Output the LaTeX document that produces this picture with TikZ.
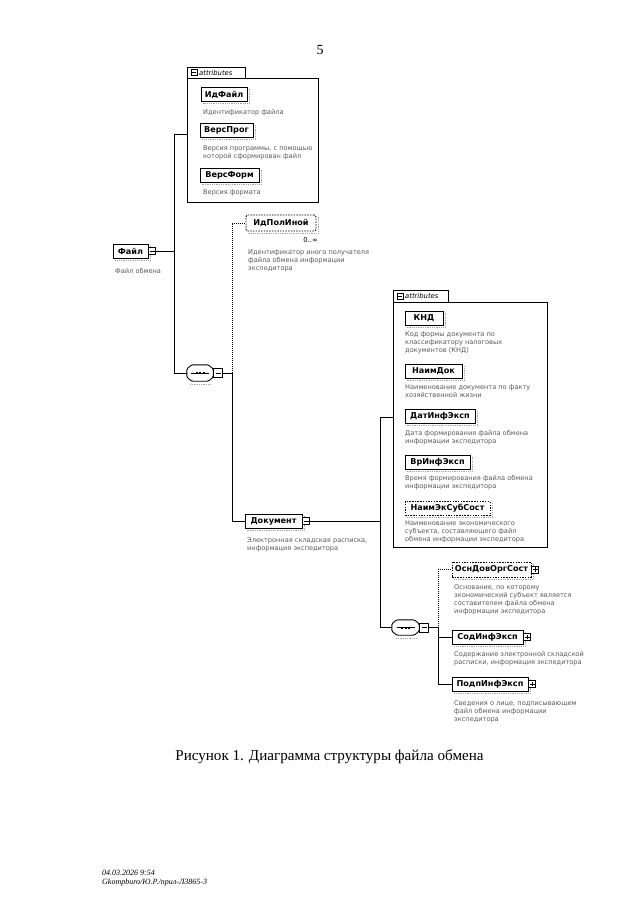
\documentclass[tikz,border=0pt]{standalone}
\usepackage{fontspec}
\setmainfont{Liberation Serif}
\newfontfamily\xs{DejaVu Sans}
\tikzset{
  el/.style={draw, line width=0.9pt, fill=white, font=\xs\bfseries\fontsize{8.1}{9}\selectfont,
    minimum height=14pt, inner sep=0pt, anchor=center},
  optel/.style={el, dash pattern=on 1.5pt off 1.2pt},
  desc/.style={anchor=north west, inner sep=0pt, align=left,
    font=\xs\fontsize{6.6}{8}\selectfont, text=black!65},
  conn/.style={line width=0.9pt},
  optconn/.style={line width=0.9pt, dash pattern=on 1pt off 1pt},
  pmbox/.style={draw, line width=0.6pt, fill=white, minimum size=7pt, inner sep=0pt},
  shd/.style={black!35, line width=1.2pt, dash pattern=on 1pt off 0.8pt},
  seqbox/.style={minimum width=26pt, minimum height=16pt, inner sep=0pt},
  attrbox/.style={draw, line width=0.9pt, anchor=north west, inner sep=0pt},
  tabtext/.style={anchor=west, inner sep=0pt, font=\xs\itshape\fontsize{6.8}{8}\selectfont},
}
\newcommand{\shadowof}[1]{%
  \draw[shd] ([xshift=1.8pt,yshift=-2pt]#1.north east) -- ([xshift=1.8pt,yshift=-1.8pt]#1.south east)
    -- ([xshift=2pt,yshift=-1.8pt]#1.south west);}
\newcommand{\plusof}[2]{%
  \node[pmbox, anchor=west] (#2) at (#1.east) {};
  \draw[line width=0.6pt] ([xshift=-2.3pt]#2.center) -- ([xshift=2.3pt]#2.center)
    ([yshift=-2.3pt]#2.center) -- ([yshift=2.3pt]#2.center);}
\newcommand{\minusof}[2]{%
  \node[pmbox, anchor=west] (#2) at (#1.east) {};
  \draw[line width=0.6pt] ([xshift=-2.3pt]#2.center) -- ([xshift=2.3pt]#2.center);}
\newcommand{\seqicon}[1]{%
  \draw[line width=0.9pt, fill=white, rounded corners=1.2pt]
    ([xshift=5pt]#1.north west) -- ([xshift=-5pt]#1.north east) -- ([yshift=-4pt]#1.north east)
    -- ([yshift=4pt]#1.south east) -- ([xshift=-5pt]#1.south east) -- ([xshift=5pt]#1.south west)
    -- ([yshift=4pt]#1.south west) -- ([yshift=-4pt]#1.north west) -- cycle;
  \draw[line width=0.6pt] ([xshift=-9pt]#1.center) -- ([xshift=9pt]#1.center);
  \foreach \dx in {-3.5,0,3.5}{\fill ([xshift=\dx pt]#1.center) +(-1pt,-1pt) rectangle +(1pt,1pt);}}
\begin{document}
\begin{tikzpicture}[x=1pt,y=-1pt]
\useasboundingbox (0,0) rectangle (640,905);
\fill[white] (0,0) rectangle (640,905);

% page number
\node[font=\fontsize{14}{16}\selectfont] (pgnum) at (320,50) {5};

% ---------- attributes box 1 ----------
\node[attrbox, minimum width=131pt, minimum height=124pt] (attr1) at (187,78) {};
\draw[line width=0.9pt] (attr1.north west) -- ++(0,-11) -- ++(58,0) -- ++(0,11);
\node[pmbox, minimum size=6pt] (attr1m) at (194,72.5) {};
\draw[line width=0.5pt] ([xshift=-2pt]attr1m.center) -- ([xshift=2pt]attr1m.center);
\node[tabtext] (attr1t) at (199,72.5) {attributes};

\node[el, minimum width=46pt] (idf) at (224,94.5) {ИдФайл};
\shadowof{idf}
\node[desc] (idfd) at (203,109) {Идентификатор файла};

\node[el, minimum width=53pt] (vprog) at (226.5,130.5) {ВерсПрог};
\shadowof{vprog}
\node[desc] (vprogd) at (203,145) {Версия программы, с помощью\\которой сформирован файл};

\node[el, minimum width=59pt] (vform) at (229.5,175) {ВерсФорм};
\shadowof{vform}
\node[desc] (vformd) at (203,189) {Версия формата};

% ---------- root ----------
\node[el, minimum width=35pt] (ff) at (130.5,251) {Файл};
\shadowof{ff}
\minusof{ff}{ffm}
\node[desc] (ffd) at (115,268) {Файл обмена};

\coordinate (s1t) at (174,134);
\coordinate (s1b) at (174,373);
\draw[conn] (ffm.east) -- (ffm.east -| s1t);
\draw[conn] (s1t -| attr1.west) -- (s1t) -- (s1b);

% sequence 1
\node[seqbox] (seq1) at (200,373) {};
\seqicon{seq1}
\draw[shd, line width=0.8pt] (190,384) -- (210,384);
\node[pmbox, minimum size=9pt, anchor=west] (seq1m) at (seq1.east) {};
\draw[line width=0.6pt] ([xshift=-2.5pt]seq1m.center) -- ([xshift=2.5pt]seq1m.center);
\draw[conn] (s1b) -- (seq1.west);
\coordinate (j1) at (232,373);
\draw[conn] (seq1m.east) -- (j1);

% ИдПолИной
\node[optel, minimum width=70pt, minimum height=16pt, rounded corners=2pt] (idpol) at (281,223) {ИдПолИной};
\shadowof{idpol}
\node[anchor=east, inner sep=0pt, font=\xs\fontsize{6.8}{8}\selectfont] (idpolc) at (318,240) {0..∞};
\node[desc] (idpold) at (248,249) {Идентификатор иного получателя\\файла обмена информации\\экспедитора};
\draw[optconn] (j1) -- (j1 |- idpol.west) -- (idpol.west);

% Документ
\node[el, minimum width=57pt] (doc) at (273.5,521) {Документ};
\shadowof{doc}
\minusof{doc}{docm}
\node[desc] (docd) at (247,537) {Электронная складская расписка,\\информация экспедитора};
\draw[conn] (j1) -- (j1 |- doc.west) -- (doc.west);

\coordinate (s2t) at (380,417);
\coordinate (s2b) at (380,627.5);
\draw[conn] (docm.east) -- (docm.east -| s2t);

% ---------- attributes box 2 ----------
\node[attrbox, minimum width=154pt, minimum height=245pt] (attr2) at (393,302) {};
\draw[line width=0.9pt] (attr2.north west) -- ++(0,-12) -- ++(55,0) -- ++(0,12);
\node[pmbox, minimum size=6pt] (attr2m) at (400,296) {};
\draw[line width=0.5pt] ([xshift=-2pt]attr2m.center) -- ([xshift=2pt]attr2m.center);
\node[tabtext] (attr2t) at (405,296) {attributes};
\draw[conn] (s2t -| attr2.west) -- (s2t) -- (s2b);

\node[el, minimum width=38pt] (knd) at (424,318) {КНД};
\shadowof{knd}
\node[desc] (kndd) at (405,331) {Код формы документа по\\классификатору налоговых\\документов (КНД)};

\node[el, minimum width=57pt] (naimdok) at (433.5,371.5) {НаимДок};
\shadowof{naimdok}
\node[desc] (naimdokd) at (405,384) {Наименование документа по факту\\хозяйственной жизни};

\node[el, minimum width=70pt] (dat) at (440,416.5) {ДатИнфЭксп};
\shadowof{dat}
\node[desc] (datd) at (405,430) {Дата формирования файла обмена\\информации экспедитора};

\node[el, minimum width=65pt] (vr) at (437.5,462) {ВрИнфЭксп};
\shadowof{vr}
\node[desc] (vrd) at (405,475) {Время формирования файла обмена\\информации экспедитора};

\node[optel, minimum width=85pt] (naimek) at (447.5,508.5) {НаимЭкСубСост};
\shadowof{naimek}
\node[desc] (naimekd) at (405,520) {Наименование экономического\\субъекта, составляющего файл\\обмена информации экспедитора};

% sequence 2
\node[seqbox, minimum width=27pt, minimum height=15pt] (seq2) at (405.5,627.5) {};
\seqicon{seq2}
\draw[shd, line width=0.8pt] (396,638) -- (416,638);
\node[pmbox, minimum size=9pt, anchor=west] (seq2m) at (seq2.east) {};
\draw[line width=0.6pt] ([xshift=-2.5pt]seq2m.center) -- ([xshift=2.5pt]seq2m.center);
\draw[conn] (s2b) -- (seq2.west);
\coordinate (j2) at (438,627.5);
\draw[conn] (seq2m.east) -- (j2);

\node[optel, minimum width=79pt, minimum height=15pt] (osn) at (491.5,569.5) {ОснДовОргСост};
\shadowof{osn}
\plusof{osn}{osnp}
\node[desc] (osnd) at (454,584) {Основание, по которому\\экономический субъект является\\составителем файла обмена\\информации экспедитора};
\draw[optconn] (j2) -- (j2 |- osn.west) -- (osn.west);

\node[el, minimum width=71pt] (sod) at (487.5,637) {СодИнфЭксп};
\shadowof{sod}
\plusof{sod}{sodp}
\node[desc] (sodd) at (454,651) {Содержание электронной складской\\расписки, информация экспедитора};

\node[el, minimum width=76pt] (podp) at (490,684) {ПодпИнфЭксп};
\shadowof{podp}
\plusof{podp}{podpp}
\node[desc] (podpd) at (454,700) {Сведения о лице, подписывающем\\файл обмена информации\\экспедитора};

\draw[conn] (j2) -- (j2 |- podp.west) -- (podp.west);
\draw[conn] (j2 |- sod.west) -- (sod.west);

% caption
\node[font=\fontsize{15.1}{17}\selectfont] (cap) at (329.5,757) {Рисунок 1. Диаграмма структуры файла обмена};

% footer
\node[anchor=north west, inner sep=0pt, align=left, font=\itshape\fontsize{8}{9}\selectfont] (foot) at (102,870) {04.03.2026 9:54\\Gkompburo/Ю.Р./прил-Л3865-3};
\end{tikzpicture}
\end{document}
